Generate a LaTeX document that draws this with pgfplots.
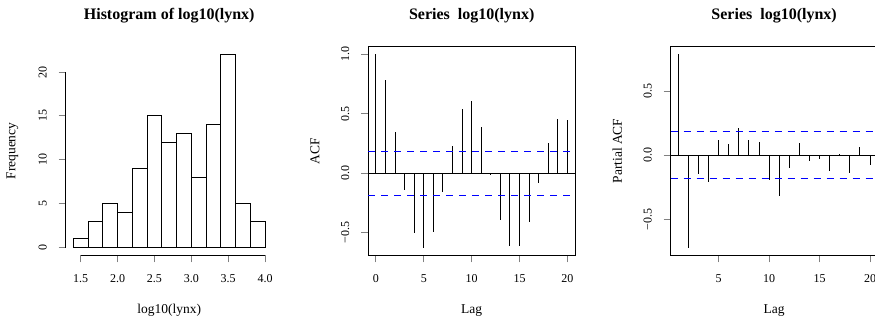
\documentclass[border=0pt]{standalone}
\usepackage{fontspec}
\setmainfont{Liberation Serif}
\usepackage{pgfplots}
\pgfplotsset{compat=1.18}
\definecolor{rblue}{RGB}{0,0,255}
\pgfplotsset{
  rstyle/.style={
    scale only axis, anchor=south west, clip=false,
    axis line style={line width=1pt},
    tick style={line width=1pt},
    major tick length=7pt, tick align=outside,
    xtick pos=left, ytick pos=left,
    tick label style={font=\fontsize{12}{14}\selectfont},
    yticklabel style={xshift=-16pt, rotate=90, anchor=center},
    xticklabel style={yshift=-16.6pt, anchor=center},
    /pgf/number format/assume math mode=true,
  },
}
\begin{document}
\begin{tikzpicture}
\useasboundingbox (0,0) rectangle (875pt,322pt);
% ---------- Histogram ----------
\begin{axis}[rstyle, at={(65.7pt,66.6pt)}, width=207pt, height=208.6pt,
  xmin=1.296, xmax=4.104, ymin=-0.88, ymax=22.88,
  axis x line*=bottom, axis y line*=left, axis line style={draw=none},
  xtick={1.5,2,2.5,3,3.5,4}, xticklabels={1.5,2.0,2.5,3.0,3.5,4.0},
  ytick={0,5,10,15,20}, yticklabels={0,5,10,15,20}]
\addplot[ybar interval, fill=white, draw=black, line width=1pt] coordinates {
  (1.4,1) (1.6,3) (1.8,5) (2.0,4) (2.2,9) (2.4,15) (2.6,12)
  (2.8,13) (3.0,8) (3.2,14) (3.4,22) (3.6,5) (3.8,3) (4.0,3)};
\draw[line width=1pt] (axis cs:1.5,-0.88) -- (axis cs:4,-0.88);
\draw[line width=1pt] (axis cs:1.296,0) -- (axis cs:1.296,20);
\end{axis}
% ---------- ACF ----------
\begin{axis}[rstyle, at={(368.3pt,66.6pt)}, width=206.7pt, height=208.7pt,
  xmin=-0.8, xmax=20.8, ymin=-0.69, ymax=1.065,
  xtick={0,5,10,15,20}, xticklabels={0,5,10,15,20},
  ytick={-0.5,0,0.5,1}, yticklabels={−0.5,0.0,0.5,1.0}]
\addplot[ycomb, black, line width=1pt, mark=none] coordinates {
  (0,1.000) (1,0.786) (2,0.346) (3,-0.136) (4,-0.500) (5,-0.628)
  (6,-0.495) (7,-0.160) (8,0.234) (9,0.544) (10,0.610) (11,0.386)
  (12,-0.015) (13,-0.389) (14,-0.612) (15,-0.614) (16,-0.412)
  (17,-0.077) (18,0.254) (19,0.460) (20,0.449)};
\addplot[black, line width=1pt, mark=none] coordinates {(-0.8,0) (20.8,0)};
\coordinate (a1) at (axis cs:-0.8,0.1836);
\coordinate (a2) at (axis cs:20.8,0.1836);
\coordinate (a3) at (axis cs:-0.8,-0.1836);
\coordinate (a4) at (axis cs:20.8,-0.1836);
\end{axis}
% ---------- PACF ----------
\begin{axis}[rstyle, at={(670.6pt,66.6pt)}, width=207.1pt, height=208.7pt,
  xmin=0.24, xmax=20.76, ymin=-0.783, ymax=0.846,
  xtick={5,10,15,20}, xticklabels={5,10,15,20},
  ytick={-0.5,0,0.5}, yticklabels={−0.5,0.0,0.5}]
\addplot[ycomb, black, line width=1pt, mark=none] coordinates {
  (1,0.786) (2,-0.723) (3,-0.148) (4,-0.212) (5,0.117) (6,0.085)
  (7,0.210) (8,0.117) (9,0.101) (10,-0.194) (11,-0.318) (12,-0.104)
  (13,0.096) (14,-0.043) (15,-0.028) (16,-0.128) (17,0.008) (18,-0.139)
  (19,0.063) (20,-0.081)};
\addplot[black, line width=1pt, mark=none] coordinates {(0.24,0) (20.76,0)};
\coordinate (b1) at (axis cs:0.24,0.1836);
\coordinate (b2) at (axis cs:20.76,0.1836);
\coordinate (b3) at (axis cs:0.24,-0.1836);
\coordinate (b4) at (axis cs:20.76,-0.1836);
\end{axis}
% ---------- blue dashed significance bounds: one single path ----------
\draw[rblue, line width=1pt, dash pattern=on 7pt off 6pt]
  (a1) -- (a2) (a3) -- (a4) (b1) -- (b2) (b3) -- (b4);
% ---------- titles and labels ----------
\begin{scope}[every node/.style={font=\bfseries\fontsize{16}{19}\selectfont}]
\node at (169.2pt,306.3pt) {Histogram of log10(lynx)};
\node at (471.7pt,306.3pt) {Series\ \ log10(lynx)};
\node at (774.1pt,306.3pt) {Series\ \ log10(lynx)};
\end{scope}
\begin{scope}[every node/.style={font=\fontsize{13.5}{16}\selectfont}]
\node at (169.2pt,11.3pt) {log10(lynx)};
\node at (471.7pt,11.3pt) {Lag};
\node at (774.1pt,11.3pt) {Lag};
\node[rotate=90] at (12.3pt,171pt) {Frequency};
\node[rotate=90] at (315pt,171pt) {ACF};
\node[rotate=90] at (617.3pt,171pt) {Partial ACF};
\end{scope}
\end{tikzpicture}
\end{document}
